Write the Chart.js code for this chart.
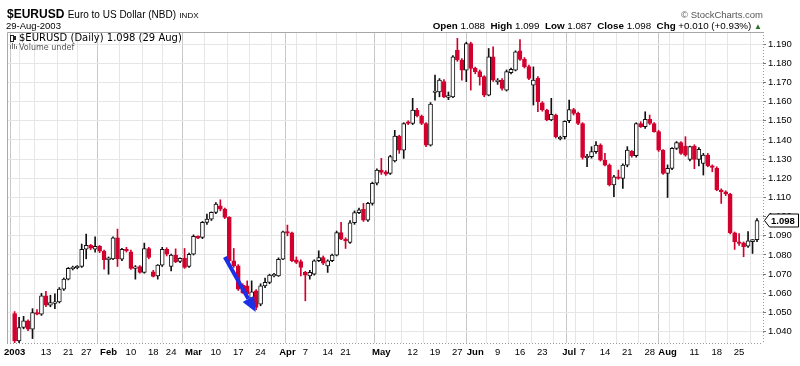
<!DOCTYPE html>
<html><head><meta charset="utf-8">
<script src="https://cdn.jsdelivr.net/npm/chart.js@4.4.0/dist/chart.umd.min.js"></script>
<style>
html,body{margin:0;padding:0;background:#fff;}
#wrap{position:relative;width:800px;height:366px;overflow:hidden;font-family:"Liberation Sans",Arial,sans-serif;}
canvas{position:absolute;left:0;top:0;}
.t{position:absolute;white-space:nowrap;color:#000;line-height:1;}
.ic{position:absolute;}
</style></head><body>
<div id="wrap">
<canvas id="c" width="800" height="366"></canvas>
<div class="t" style="left:7px;top:8px;font-size:12px;font-weight:bold;">$EURUSD <span style="font-weight:normal;font-size:10px;">Euro to US Dollar (NBD)</span> <span style="font-weight:normal;font-size:8px;">INDX</span></div>
<div class="t" style="left:6px;top:21px;font-size:9.5px;">29-Aug-2003</div>
<div class="t" style="right:37px;top:10px;font-size:9.5px;color:#555;">&copy; StockCharts.com</div>
<div class="t" style="right:38px;top:21px;font-size:9.8px;"><b>Open</b> 1.088&nbsp; <b>High</b> 1.099&nbsp; <b>Low</b> 1.087&nbsp; <b>Close</b> 1.098&nbsp; <b>Chg</b> +0.010 (+0.93%) <span style="color:#2a6e2a;font-size:8px;">&#9650;</span></div>
<!-- legend icons -->
<div class="ic" style="left:10px;top:35px;width:2px;height:5px;border:1px solid #222;background:#fff;"></div>
<div class="ic" style="left:14px;top:36px;width:2px;height:4px;background:#222;"></div>
<div class="ic" style="left:10px;top:45px;width:1px;height:4px;background:#777;"></div>
<div class="ic" style="left:12px;top:43px;width:1px;height:6px;background:#777;"></div>
<div class="ic" style="left:14px;top:44px;width:1px;height:5px;background:#777;"></div>
<div class="ic" style="left:16px;top:46px;width:1px;height:3px;background:#777;"></div>
<div class="t" style="left:19px;top:33px;font-size:10px;font-family:'DejaVu Sans',sans-serif;">$EURUSD (Daily) 1.098 (29 Aug)</div>
<div class="t" style="left:19px;top:43.5px;font-size:8px;font-family:'DejaVu Sans',sans-serif;color:#555;">Volume undef</div>
</div>
<script>
// ---- data ----
const openP = [1.0495,1.0352,1.0422,1.0457,1.0413,1.0500,1.0492,1.0587,1.0538,1.0548,1.0555,1.0622,1.0674,1.0730,1.0735,1.0740,1.0830,1.0851,1.0830,1.0845,1.0820,1.0775,1.0780,1.0890,1.0778,1.0830,1.0817,1.0730,1.0740,1.0709,1.0834,1.0712,1.0691,1.0747,1.0830,1.0740,1.0800,1.0766,1.0782,1.0740,1.0804,1.0897,1.0891,1.0970,1.0987,1.1022,1.1057,1.1039,1.0996,1.0770,1.0743,1.0643,1.0639,1.0575,1.0613,1.0543,1.0639,1.0657,1.0693,1.0691,1.0778,1.0921,1.0915,1.0775,1.0765,1.0709,1.0691,1.0700,1.0770,1.0787,1.0743,1.0770,1.0799,1.0917,1.0883,1.0865,1.0968,1.1021,1.1038,1.0982,1.1069,1.1174,1.1243,1.1234,1.1226,1.1290,1.1420,1.1347,1.1495,1.1486,1.1556,1.1525,1.1486,1.1373,1.1650,1.1651,1.1704,1.1622,1.1625,1.1869,1.1817,1.1764,1.1903,1.1773,1.1756,1.1730,1.1634,1.1834,1.1704,1.1712,1.1660,1.1751,1.1764,1.1865,1.1820,1.1782,1.1686,1.1721,1.1594,1.1556,1.1504,1.1530,1.1408,1.1417,1.1500,1.1559,1.1539,1.1486,1.1309,1.1313,1.1339,1.1373,1.1295,1.1269,1.1165,1.1208,1.1200,1.1269,1.1340,1.1318,1.1486,1.1469,1.1507,1.1486,1.1443,1.1347,1.1226,1.1252,1.1356,1.1386,1.1368,1.1299,1.1368,1.1299,1.1278,1.1321,1.1264,1.1252,1.1139,1.1130,1.1118,1.0916,1.0869,1.0864,1.0846,1.0870,1.0880];
const highP = [1.0505,1.0475,1.0480,1.0462,1.0520,1.0515,1.0600,1.0610,1.0590,1.0598,1.0630,1.0680,1.0735,1.0742,1.0745,1.0857,1.0909,1.0855,1.0895,1.0850,1.0825,1.0790,1.0895,1.0935,1.0835,1.0840,1.0825,1.0745,1.0745,1.0862,1.0840,1.0720,1.0750,1.0840,1.0838,1.0805,1.0832,1.0785,1.0834,1.0810,1.0905,1.0900,1.0975,1.1013,1.1025,1.1074,1.1088,1.1045,1.1000,1.0834,1.0750,1.0650,1.0665,1.0665,1.0620,1.0650,1.0680,1.0700,1.0705,1.0785,1.0925,1.0956,1.0920,1.0790,1.0775,1.0715,1.0720,1.0775,1.0822,1.0795,1.0775,1.0805,1.0925,1.0970,1.0890,1.0980,1.1030,1.1045,1.1069,1.1075,1.1180,1.1250,1.1304,1.1240,1.1320,1.1450,1.1425,1.1490,1.1500,1.1617,1.1565,1.1530,1.1490,1.1595,1.1738,1.1720,1.1715,1.1650,1.1840,1.1930,1.1825,1.1910,1.1910,1.1780,1.1765,1.1735,1.1877,1.1886,1.1720,1.1720,1.1765,1.1775,1.1865,1.1924,1.1830,1.1790,1.1781,1.1730,1.1600,1.1560,1.1617,1.1535,1.1420,1.1500,1.1608,1.1565,1.1545,1.1490,1.1325,1.1365,1.1391,1.1380,1.1330,1.1275,1.1215,1.1243,1.1275,1.1365,1.1345,1.1490,1.1495,1.1547,1.1530,1.1490,1.1450,1.1350,1.1270,1.1360,1.1392,1.1392,1.1417,1.1368,1.1375,1.1360,1.1330,1.1330,1.1270,1.1260,1.1145,1.1135,1.1122,1.0920,1.0912,1.0868,1.0922,1.0880,1.0990];
const lowP = [1.0340,1.0340,1.0415,1.0405,1.0364,1.0488,1.0485,1.0530,1.0530,1.0520,1.0550,1.0615,1.0670,1.0722,1.0728,1.0735,1.0780,1.0828,1.0815,1.0812,1.0726,1.0700,1.0775,1.0740,1.0770,1.0815,1.0725,1.0674,1.0705,1.0705,1.0780,1.0685,1.0674,1.0740,1.0795,1.0717,1.0760,1.0760,1.0730,1.0735,1.0800,1.0885,1.0885,1.0960,1.0980,1.1015,1.1030,1.0990,1.0765,1.0735,1.0615,1.0600,1.0590,1.0570,1.0515,1.0535,1.0630,1.0650,1.0685,1.0688,1.0775,1.0900,1.0765,1.0755,1.0691,1.0561,1.0674,1.0695,1.0765,1.0750,1.0709,1.0765,1.0795,1.0880,1.0834,1.0860,1.0960,1.1015,1.0975,1.0975,1.1060,1.1165,1.1220,1.1215,1.1220,1.1285,1.1330,1.1304,1.1480,1.1480,1.1520,1.1480,1.1365,1.1368,1.1608,1.1625,1.1620,1.1610,1.1620,1.1810,1.1712,1.1704,1.1660,1.1745,1.1686,1.1625,1.1630,1.1705,1.1690,1.1660,1.1655,1.1745,1.1760,1.1815,1.1775,1.1715,1.1582,1.1547,1.1550,1.1500,1.1500,1.1410,1.1400,1.1405,1.1490,1.1530,1.1480,1.1300,1.1260,1.1305,1.1330,1.1290,1.1265,1.1160,1.1104,1.1195,1.1147,1.1260,1.1310,1.1310,1.1465,1.1460,1.1480,1.1440,1.1340,1.1220,1.1100,1.1245,1.1350,1.1325,1.1315,1.1290,1.1250,1.1264,1.1217,1.1260,1.1234,1.1135,1.1069,1.1110,1.0910,1.0829,1.0850,1.0791,1.0840,1.0808,1.0870];
const closeP = [1.0352,1.0422,1.0457,1.0413,1.0500,1.0492,1.0587,1.0538,1.0552,1.0555,1.0622,1.0674,1.0730,1.0735,1.0740,1.0830,1.0851,1.0835,1.0845,1.0820,1.0775,1.0785,1.0890,1.0780,1.0830,1.0822,1.0730,1.0738,1.0709,1.0834,1.0787,1.0688,1.0747,1.0830,1.0804,1.0800,1.0764,1.0782,1.0735,1.0804,1.0897,1.0888,1.0970,1.0987,1.1022,1.1065,1.1039,1.0996,1.0770,1.0743,1.0622,1.0604,1.0596,1.0608,1.0526,1.0639,1.0657,1.0695,1.0697,1.0778,1.0921,1.0915,1.0770,1.0761,1.0735,1.0695,1.0709,1.0770,1.0787,1.0757,1.0770,1.0799,1.0917,1.0883,1.0874,1.0968,1.1021,1.1035,1.0982,1.1069,1.1174,1.1243,1.1230,1.1222,1.1313,1.1420,1.1347,1.1486,1.1486,1.1556,1.1525,1.1486,1.1373,1.1587,1.1653,1.1712,1.1625,1.1632,1.1834,1.1817,1.1764,1.1903,1.1773,1.1756,1.1730,1.1634,1.1834,1.1712,1.1712,1.1669,1.1756,1.1768,1.1860,1.1820,1.1782,1.1721,1.1712,1.1599,1.1556,1.1504,1.1533,1.1417,1.1412,1.1497,1.1559,1.1539,1.1486,1.1309,1.1313,1.1339,1.1373,1.1295,1.1269,1.1165,1.1208,1.1200,1.1269,1.1347,1.1318,1.1486,1.1469,1.1507,1.1486,1.1443,1.1347,1.1226,1.1252,1.1356,1.1386,1.1330,1.1321,1.1365,1.1299,1.1351,1.1321,1.1264,1.1257,1.1139,1.1130,1.1118,1.0916,1.0869,1.0860,1.0843,1.0874,1.0880,1.0980];

// x-axis ticks: trading-day index of each gridline, its label ('' = no label), month flag
const tickPos   = [0,2,7,12,16,21,26,31,35,40,45,50,55,60,61,65,70,74,79,82,84,89,94,99,103,108,113,118,123,124,127,132,137,142,146,147,152,157,162];
const tickText  = ['2003','','13','21','27','Feb','10','18','24','Mar','10','17','24','','Apr','7','14','21','','May','','12','19','27','Jun','9','16','23','','Jul','7','14','21','28','Aug','','11','18','25'];
const monthPos  = [0,21,40,61,82,103,124,146];
const yTicks    = [1.04,1.05,1.06,1.07,1.08,1.09,1.10,1.11,1.12,1.13,1.14,1.15,1.16,1.17,1.18,1.19];
// annotation arrow (trading-day index, price)
const arrowFrom = [47.0, 1.0789];
const arrowTo   = [53.9, 1.0503];
const lastClose = 1.098;

const RED = '#d2002e';
const up = closeP.map((c,i)=> c >= openP[i]);
const bodyData = openP.map((o,i)=>{
  const c = closeP[i];
  let a = Math.min(o,c), b = Math.max(o,c);
  if (b - a < 0.0008) { const m=(a+b)/2; a=m-0.0004; b=m+0.0004; }
  return {x:i, y:[a,b]};
});
const wickData = lowP.map((l,i)=>({x:i, y:[l, highP[i]]}));

const framePlugin = {
  id:'frame',
  beforeDatasetsDraw(chart){
    const {ctx, chartArea:a} = chart;
    ctx.save();
    ctx.strokeStyle = '#a8a8a8'; ctx.lineWidth = 1;
    ctx.beginPath();
    ctx.moveTo(a.left+0.5, a.bottom); ctx.lineTo(a.left+0.5, a.top+0.5); ctx.lineTo(a.right, a.top+0.5);
    ctx.stroke();
    ctx.strokeStyle = '#9a9a9a';
    ctx.setLineDash([1,2]);
    ctx.beginPath();
    ctx.moveTo(a.left, a.bottom+0.5); ctx.lineTo(a.right, a.bottom+0.5);
    ctx.moveTo(a.right+0.5, a.top); ctx.lineTo(a.right+0.5, a.bottom+1);
    ctx.stroke();
    ctx.restore();
  }
};
const arrowPlugin = {
  id:'arrow',
  afterDatasetsDraw(chart){
    const {ctx, scales:{x,y}} = chart;
    const x1=x.getPixelForValue(arrowFrom[0]), y1=y.getPixelForValue(arrowFrom[1]);
    const x2=x.getPixelForValue(arrowTo[0]),   y2=y.getPixelForValue(arrowTo[1]);
    const ang = Math.atan2(y2-y1, x2-x1);
    const L = 15, W = 6.5;
    const bx = x2 - L*Math.cos(ang), by = y2 - L*Math.sin(ang);
    ctx.save();
    ctx.strokeStyle = '#1b2fe6'; ctx.fillStyle = '#1b2fe6';
    ctx.lineWidth = 4; ctx.lineCap = 'butt';
    ctx.beginPath(); ctx.moveTo(x1,y1); ctx.lineTo(bx,by); ctx.stroke();
    ctx.beginPath();
    ctx.moveTo(x2,y2);
    ctx.lineTo(bx + W*Math.sin(ang), by - W*Math.cos(ang));
    ctx.lineTo(bx - W*Math.sin(ang), by + W*Math.cos(ang));
    ctx.closePath(); ctx.fill();
    ctx.restore();
  }
};
const lastPlugin = {
  id:'lastPrice',
  afterDraw(chart){
    const {ctx, chartArea:a, scales:{y}} = chart;
    const py = Math.round(y.getPixelForValue(lastClose)) + 0.5;
    const x0 = a.right + 1.5, h = 6.5;
    ctx.save();
    ctx.beginPath();
    ctx.moveTo(x0, py);
    ctx.lineTo(x0+5, py-h);
    ctx.lineTo(798.5, py-h);
    ctx.lineTo(798.5, py+h);
    ctx.lineTo(x0+5, py+h);
    ctx.closePath();
    ctx.fillStyle = '#fff'; ctx.fill();
    ctx.strokeStyle = '#000'; ctx.lineWidth = 1; ctx.stroke();
    ctx.fillStyle = '#000';
    ctx.font = 'bold 9.5px "Liberation Sans", Arial, sans-serif';
    ctx.textBaseline = 'middle'; ctx.textAlign = 'left';
    ctx.fillText(lastClose.toFixed(3), x0+6.5, py+0.5);
    ctx.restore();
  }
};

new Chart(document.getElementById('c'), {
  type:'bar',
  data:{ datasets:[
    { label:'body', data: bodyData,
      backgroundColor: up.map(u=> u ? '#ffffff' : RED),
      borderColor: up.map(u=> u ? '#111111' : RED),
      borderWidth: 1, borderSkipped: false, barThickness: 4, grouped: false },
    { label:'wick', data: wickData,
      backgroundColor: up.map(u=> u ? '#111111' : RED),
      borderWidth: 0, barThickness: 1, grouped: false }
  ]},
  options:{
    responsive:false, animation:false, events:[],
    layout:{ padding:{ left:6, top:32, right:0, bottom:0 } },
    plugins:{ legend:{display:false}, tooltip:{enabled:false} },
    scales:{
      x:{ type:'linear', min:-1.7, max:167.34, offset:false,
        afterBuildTicks: s => { s.ticks = tickPos.map(v=>({value:v})); },
        afterFit: s => { s.height = 23; },
        ticks:{ autoSkip:false, maxRotation:0, minRotation:0, padding:4, color:'#000',
          callback:(v,i)=> tickText[i],
          font: c => ({ family:'"Liberation Sans", Arial, sans-serif', size:9.5,
                        weight: (c.tick && monthPos.includes(c.tick.value)) ? 'bold' : 'normal' }) },
        grid:{ drawTicks:false,
          color: c => (c.tick && monthPos.includes(c.tick.value)) ? '#c8c8c8' : '#e6e6e6',
          lineWidth: 1 },
        border:{ display:false }
      },
      y:{ position:'right', min:1.0341, max:1.1963,
        afterBuildTicks: s => { s.ticks = yTicks.map(v=>({value:v})); },
        afterFit: s => { s.width = 37; },
        ticks:{ padding:2, color:'#000', callback: v => Number(v).toFixed(3),
          font:{ family:'"Liberation Sans", Arial, sans-serif', size:9.5 } },
        grid:{ color:'#e6e6e6', tickLength:3, tickColor:'#777' },
        border:{ display:false }
      }
    }
  },
  plugins:[framePlugin, arrowPlugin, lastPlugin]
});
</script>
</body></html>
